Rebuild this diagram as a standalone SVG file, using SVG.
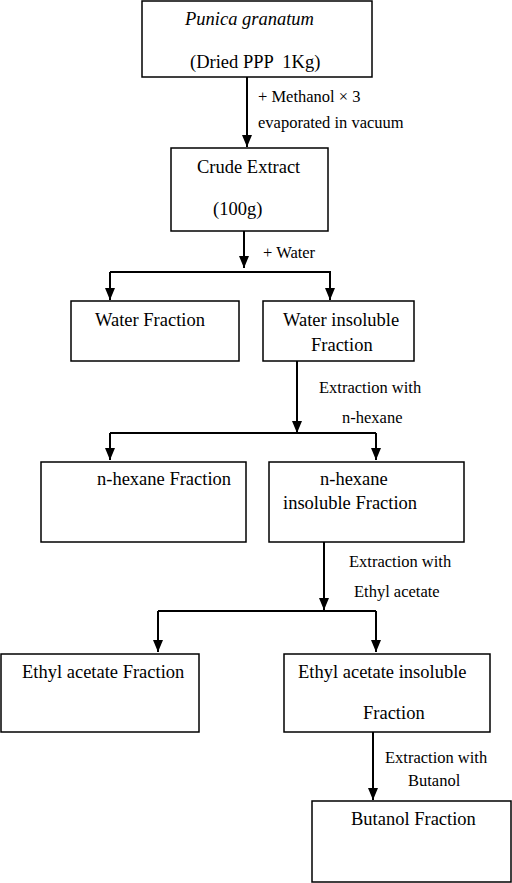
<svg xmlns="http://www.w3.org/2000/svg" width="512" height="883" viewBox="0 0 512 883">
<style>
.box{fill:#fff;stroke:#000;stroke-width:1.5}
.t{font-family:"Liberation Serif","Times New Roman",serif;font-size:18.5px;fill:#000}
.l{font-family:"Liberation Serif","Times New Roman",serif;font-size:16.5px;fill:#000}
.c{fill:none;stroke:#000;stroke-width:2}
</style>
<defs>
<marker id="ah" markerUnits="userSpaceOnUse" markerWidth="12" markerHeight="10" refX="12" refY="5" orient="auto">
<path d="M0,0 L12,5 L0,10 z" fill="#000"/>
</marker>
</defs>
<rect width="512" height="883" fill="#fff"/>
<g id="connectors">
<line class="c" x1="247" y1="77" x2="247" y2="147" marker-end="url(#ah)"/>
<line class="c" x1="244" y1="231" x2="244" y2="268" marker-end="url(#ah)"/>
<polyline class="c" points="110,272 330,272 330,300" marker-end="url(#ah)"/>
<line class="c" x1="110" y1="272" x2="110" y2="300" marker-end="url(#ah)"/>
<line class="c" x1="297" y1="361" x2="297" y2="433" marker-end="url(#ah)"/>
<polyline class="c" points="110,433 376,433"/>
<line class="c" x1="110" y1="433" x2="110" y2="460" marker-end="url(#ah)"/>
<line class="c" x1="376" y1="433" x2="376" y2="460" marker-end="url(#ah)"/>
<line class="c" x1="324" y1="542" x2="324" y2="610" marker-end="url(#ah)"/>
<polyline class="c" points="158,611 376,611"/>
<line class="c" x1="158" y1="611" x2="158" y2="652" marker-end="url(#ah)"/>
<line class="c" x1="376" y1="611" x2="376" y2="652" marker-end="url(#ah)"/>
<line class="c" x1="373" y1="732" x2="373" y2="800" marker-end="url(#ah)"/>
<text class="l" x="258" y="102">+ Methanol × 3</text>
<text class="l" x="258" y="128">evaporated in vacuum</text>
<text class="l" x="263" y="258">+ Water</text>
<text class="l" x="319" y="393">Extraction with</text>
<text class="l" x="342" y="423">n-hexane</text>
<text class="l" x="349" y="567">Extraction with</text>
<text class="l" x="354" y="597">Ethyl acetate</text>
<text class="l" x="385" y="763">Extraction with</text>
<text class="l" x="408" y="786">Butanol</text>
</g>
<g id="n1">
<rect class="box" x="142" y="1" width="230" height="76"/>
<text class="t" x="185" y="25" font-style="italic">Punica granatum</text>
<text class="t" x="190" y="68" xml:space="preserve">(Dried PPP  1Kg)</text>
</g>
<g id="n2">
<rect class="box" x="171" y="148" width="157" height="83"/>
<text class="t" x="197" y="173">Crude Extract</text>
<text class="t" x="213" y="215">(100g)</text>
</g>
<g id="n3">
<rect class="box" x="71" y="301" width="168" height="60"/>
<text class="t" x="95" y="326">Water Fraction</text>
</g>
<g id="n4">
<rect class="box" x="263" y="301" width="151" height="60"/>
<text class="t" x="283" y="326">Water insoluble</text>
<text class="t" x="311" y="351">Fraction</text>
</g>
<g id="n5">
<rect class="box" x="41" y="462" width="205" height="80"/>
<text class="t" x="97" y="485">n-hexane Fraction</text>
</g>
<g id="n6">
<rect class="box" x="269" y="462" width="195" height="80"/>
<text class="t" x="320" y="485">n-hexane</text>
<text class="t" x="283" y="509">insoluble Fraction</text>
</g>
<g id="n7">
<rect class="box" x="1" y="654" width="198" height="78"/>
<text class="t" x="22" y="678">Ethyl acetate Fraction</text>
</g>
<g id="n8">
<rect class="box" x="284" y="654" width="206" height="78"/>
<text class="t" x="298" y="678">Ethyl acetate insoluble</text>
<text class="t" x="363" y="719">Fraction</text>
</g>
<g id="n9">
<rect class="box" x="312" y="801" width="199" height="81"/>
<text class="t" x="351" y="825">Butanol Fraction</text>
</g>
</svg>
